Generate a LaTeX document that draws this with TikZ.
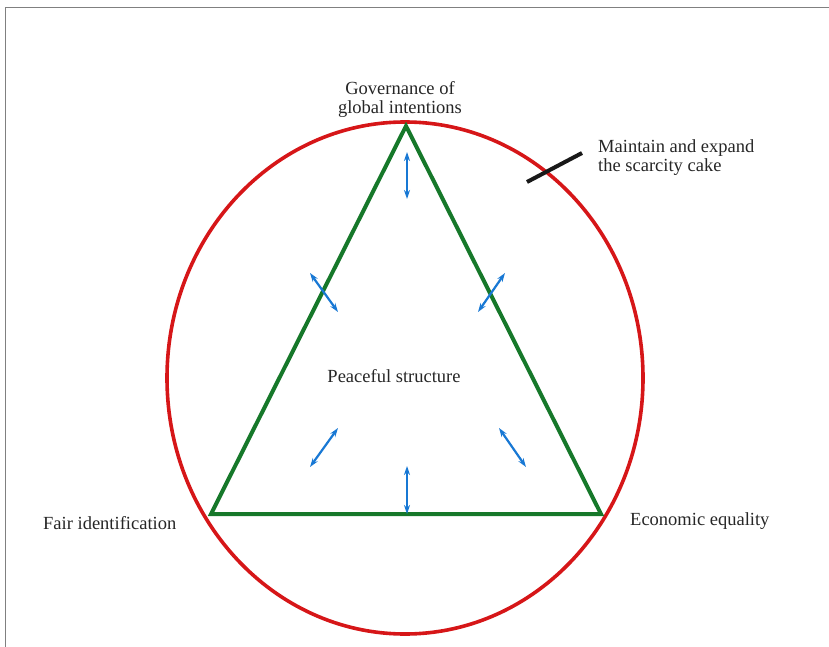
\documentclass[tikz,border=0pt]{standalone}
\usepackage{fontspec}
\setmainfont{Liberation Serif}
\usetikzlibrary{arrows.meta}
\definecolor{ringred}{RGB}{214,22,24}
\definecolor{trigreen}{RGB}{22,120,42}
\definecolor{arrblue}{RGB}{24,120,212}
\tikzset{
  lbl/.style={font=\fontsize{18.5}{18}\selectfont, inner sep=0pt, text=black!85},
  dbl/.style={draw=arrblue, line width=2.2pt, {Stealth[length=9pt,width=6pt]}-{Stealth[length=9pt,width=6pt]}},
}
\begin{document}
\begin{tikzpicture}[x=1pt,y=-1pt]
\useasboundingbox (0,0) rectangle (829,647);
\draw[gray, line width=0.8pt] (5,647) -- (5,7) -- (829,7);
% ring
\draw[ringred, line width=3.6pt] (405,378) ellipse [x radius=238, y radius=256];
% triangle
\coordinate (top) at (406,126);
\coordinate (bl) at (211,514);
\coordinate (br) at (601,514);
\draw[trigreen, line width=4pt, line join=miter] (top) -- (bl) -- (br) -- cycle;
% arrows
\coordinate (a1) at (407,152); \coordinate (a2) at (407,199);
\coordinate (b1) at (310,273); \coordinate (b2) at (338,312);
\coordinate (c1) at (505,273); \coordinate (c2) at (478,312);
\coordinate (d1) at (338,428); \coordinate (d2) at (310,467);
\coordinate (e1) at (499,428); \coordinate (e2) at (526,467);
\coordinate (f1) at (407,466); \coordinate (f2) at (407,514);
\draw[dbl] (a1) -- (a2);
\draw[dbl] (b1) -- (b2);
\draw[dbl] (c1) -- (c2);
\draw[dbl] (d1) -- (d2);
\draw[dbl] (e1) -- (e2);
\draw[dbl] (f1) -- (f2);
% black tick
\coordinate (k1) at (527,182); \coordinate (k2) at (582,153);
\draw[black!90, line width=4pt] (k1) -- (k2);
% labels
\node[lbl, align=center] (gov) at (400,99) {Governance of\\[1pt]global intentions};
\node[lbl, align=left, anchor=west] (cake) at (598,158) {Maintain and expand\\[1pt]the scarcity cake};
\node[lbl] (peace) at (394,376) {Peaceful structure};
\node[lbl, anchor=west] (fair) at (43,523) {Fair identification};
\node[lbl, anchor=west] (econ) at (630,521) {Economic equality};
\end{tikzpicture}
\end{document}
